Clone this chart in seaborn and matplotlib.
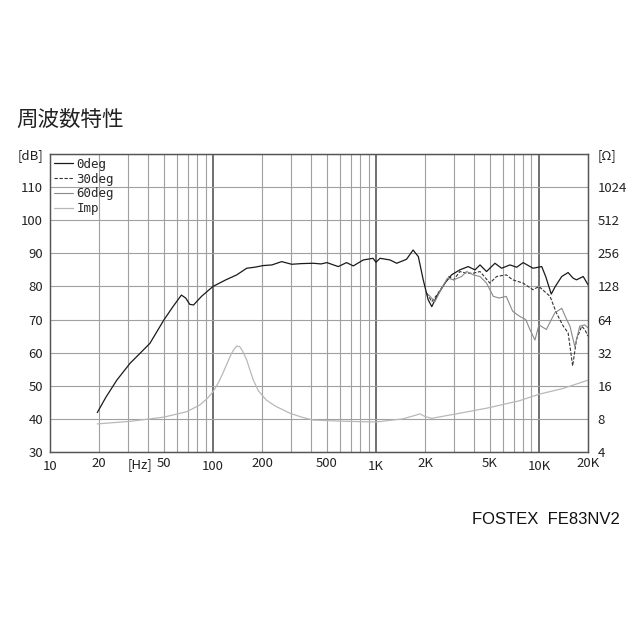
import matplotlib
matplotlib.use('Agg')
import matplotlib.pyplot as plt
import matplotlib.ticker as mticker
import seaborn as sns

# on-axis SPL (0deg)
freq_0 = [19.5, 22, 25.7, 31, 36, 41, 50, 57, 64, 68, 72, 76, 85, 100, 120, 140,
          161, 180, 203, 230, 264, 304, 350, 412, 460, 500, 587, 660, 726, 836, 960,
          1000, 1060, 1220, 1340, 1540, 1690, 1820, 1950, 2090, 2200, 2360, 2650,
          2910, 3270, 3680, 4050, 4350, 4770, 5370, 5900, 6640, 7300, 8000, 9200,
          10400, 11000, 11900, 12600, 13800, 15100, 16200, 17000, 18700, 20000]
spl_0 = [41.9, 46.5, 51.7, 56.8, 60.0, 62.8, 69.9, 74.0, 77.4, 76.5, 74.6, 74.4, 77.0,
         80.0, 82.0, 83.5, 85.5, 85.8, 86.3, 86.5, 87.5, 86.7, 86.9, 87.0, 86.8, 87.2,
         86.0, 87.2, 86.2, 88.0, 88.5, 87.3, 88.5, 88.0, 87.0, 88.2, 91.0, 89.0, 82.0,
         76.0, 73.9, 77.0, 81.0, 83.5, 85.0, 86.0, 85.0, 86.5, 84.5, 87.0, 85.5, 86.5,
         85.8, 87.2, 85.5, 86.0, 83.0, 77.7, 80.0, 83.0, 84.2, 82.5, 82.0, 83.0, 80.5]

# 30deg off-axis
freq_30 = [2050, 2200, 2360, 2600, 2800, 3000, 3270, 3600, 3950, 4350, 5000, 5500,
           6300, 6900, 8000, 9200, 10000, 11700, 12800, 14100, 15100, 16100, 17000,
           18300, 19100, 20000]
spl_30 = [78.0, 75.4, 77.4, 80.4, 83.0, 82.0, 84.5, 84.0, 84.0, 84.5, 81.0, 83.0,
          83.5, 82.0, 81.0, 79.0, 80.0, 77.0, 72.0, 68.0, 66.0, 56.0, 64.0, 68.0,
          67.0, 65.0]

# 60deg off-axis
freq_60 = [2100, 2300, 2500, 2750, 3000, 3350, 3600, 3950, 4350, 4770, 5250, 5700,
           6300, 6900, 7600, 8300, 8800, 9450, 10000, 11100, 12500, 13800, 14800,
           15500, 16600, 17800, 19100, 20000]
spl_60 = [77.5, 75.4, 79.0, 82.5, 82.0, 83.0, 84.5, 83.5, 83.0, 81.0, 77.0, 76.5,
          77.0, 72.5, 71.0, 70.0, 67.0, 63.8, 68.4, 67.0, 72.0, 73.4, 70.0, 68.0,
          61.8, 68.0, 68.4, 67.5]

# impedance [ohm]
freq_imp = [19.5, 31, 50, 69, 83, 92, 100, 108, 115, 122, 130, 135, 140, 146, 152,
            161, 168, 177, 190, 212, 240, 297, 350, 412, 660, 1000, 1460, 1780, 1860,
            2000, 2200, 3000, 4770, 7600, 10000, 14000, 20000]
imp_ohm = [7.2, 7.6, 8.3, 9.3, 10.7, 12.2, 14.1, 17.1, 20.8, 25.5, 31.6, 34.5, 36.8,
           36.3, 33.0, 27.5, 22.6, 18.0, 14.4, 11.9, 10.5, 9.0, 8.3, 7.8, 7.6, 7.5,
           8.0, 8.7, 8.9, 8.4, 8.1, 8.8, 10.0, 11.7, 13.4, 15.1, 18.0]

x_labels = {10: '10', 20: '20', 50: '50', 100: '100', 200: '200', 500: '500',
            1000: '1K', 2000: '2K', 5000: '5K', 10000: '10K', 20000: '20K'}
db_ticks = [30, 40, 50, 60, 70, 80, 90, 100, 110, 120]
db_labels = ['30', '40', '50', '60', '70', '80', '90', '100', '110', '[dB]']
ohm_ticks = [4, 8, 16, 32, 64, 128, 256, 512, 1024, 2048]
ohm_labels = ['4', '8', '16', '32', '64', '128', '256', '512', '1024', '[Ω]']

sns.set_style('white')
plt.rcParams['font.family'] = ['Noto Sans CJK JP', 'DejaVu Sans']

fig, ax = plt.subplots(figsize=(6.4, 6.4), dpi=100)
fig.subplots_adjust(left=50 / 640, right=588 / 640, bottom=1 - 452 / 640, top=1 - 154 / 640)

ax.set_xscale('log')
ax.set_xlim(10, 20000)
ax.set_ylim(30, 120)

# grid
ax.xaxis.set_major_locator(mticker.LogLocator(base=10))
ax.xaxis.set_minor_locator(mticker.LogLocator(base=10, subs=range(2, 10)))
fmt = mticker.FuncFormatter(lambda v, p: x_labels.get(int(round(v)), ''))
ax.xaxis.set_major_formatter(fmt)
ax.xaxis.set_minor_formatter(fmt)
ax.grid(which='major', axis='x', color='#707070', lw=1.4)
ax.grid(which='minor', axis='x', color='#a0a0a0', lw=0.8)
ax.grid(which='major', axis='y', color='#a0a0a0', lw=0.8)
ax.set_yticks(db_ticks)
ax.set_yticklabels(db_labels)

sns.lineplot(x=freq_0, y=spl_0, ax=ax, color='#1a1a1a', lw=0.9, label='0deg')
sns.lineplot(x=freq_30, y=spl_30, ax=ax, color='#333333', lw=0.8,
             linestyle=(0, (3, 1.5)), label='30deg')
sns.lineplot(x=freq_60, y=spl_60, ax=ax, color='#8a8a8a', lw=0.8, label='60deg')

ax2 = ax.twinx()
ax2.set_yscale('log', base=2)
ax2.set_ylim(4, 2048)
sns.lineplot(x=freq_imp, y=imp_ohm, ax=ax2, color='#b8b8b8', lw=0.9, label='Imp')
ax2.set_yticks(ohm_ticks)
ax2.set_yticklabels(ohm_labels)
ax2.yaxis.set_minor_locator(mticker.NullLocator())
ax2.set_xlim(10, 20000)

h1, l1 = ax.get_legend_handles_labels()
h2, l2 = ax2.get_legend_handles_labels()
ax.get_legend().remove()
ax2.get_legend().remove()
ax2.legend(h1 + h2, l1 + l2, loc='upper left', bbox_to_anchor=(0.0, 1.0),
           frameon=False, handlelength=1.5, handletextpad=0.3, labelspacing=0.15,
           borderaxespad=0.1, borderpad=0.2, prop={'family': 'DejaVu Sans Mono', 'size': 9})

for a in (ax, ax2):
    a.set_xlabel('')
    a.set_ylabel('')
    for s in a.spines.values():
        s.set_color('#555555')
        s.set_linewidth(0.9)
ax.tick_params(which='both', length=0, labelsize=9.5, colors='#222222')
ax.tick_params(axis='x', pad=6)
ax.tick_params(axis='y', pad=5)
ax2.tick_params(which='both', length=0, labelsize=9.5, colors='#222222', pad=7)

ax.annotate('[Hz]', xy=(35.6, 0), xycoords=('data', 'axes fraction'),
            xytext=(0, -4.5), textcoords='offset points', ha='center', va='top',
            fontsize=9.5, color='#222222')

fig.text(16 / 640, 1 - 120 / 640, '周波数特性', fontsize=15.5, va='center', ha='left',
         color='#222222')
fig.text(620 / 640, 1 - 520 / 640, 'FOSTEX  FE83NV2', fontsize=12, va='center',
         ha='right', family='Liberation Sans', color='#111111')

fig.savefig('out.png', dpi=100)
